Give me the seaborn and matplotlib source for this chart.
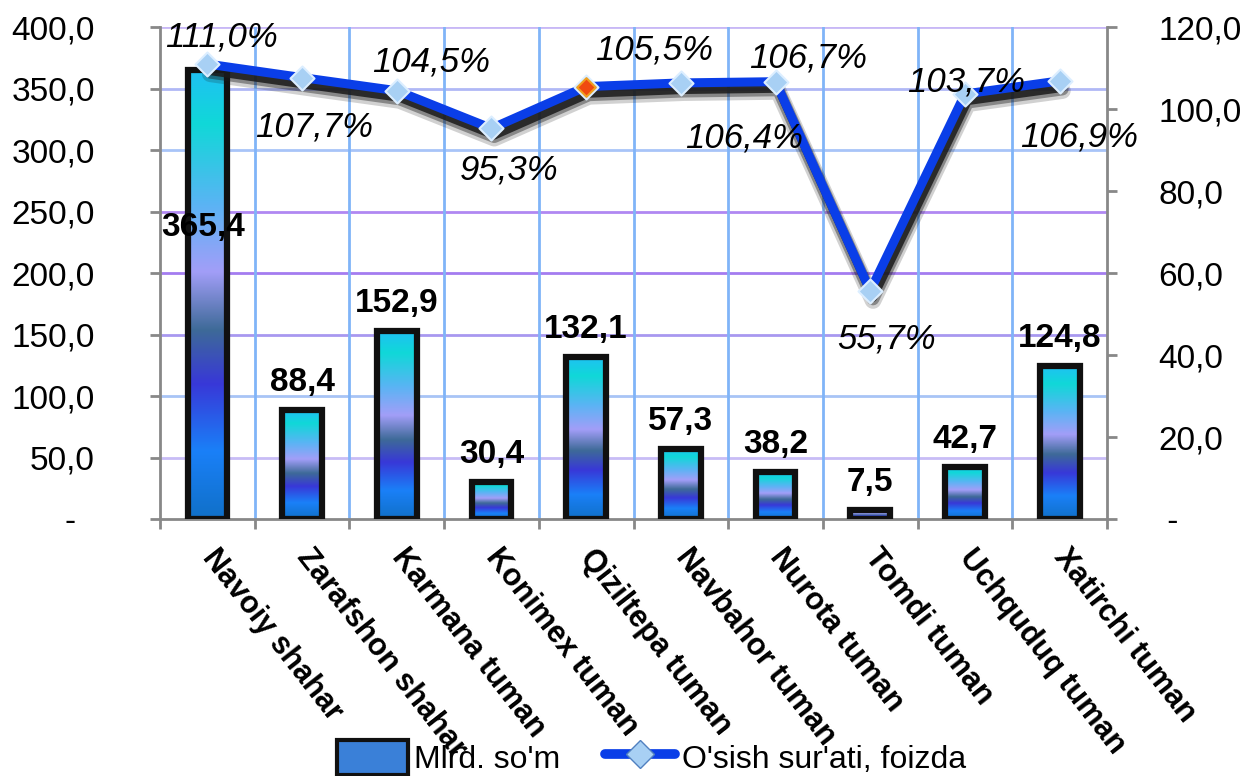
import matplotlib
matplotlib.use('Agg')
import matplotlib.pyplot as plt
import matplotlib.patheffects as pe
from matplotlib.colors import LinearSegmentedColormap
from matplotlib.lines import Line2D
from matplotlib.patches import Patch
from matplotlib.ticker import FuncFormatter, MultipleLocator
import seaborn as sns
import pandas as pd
import numpy as np

# data
regions = ['Navoiy shahar', 'Zarafshon shahar', 'Karmana tuman', 'Konimex tuman',
           'Qiziltepa tuman', 'Navbahor tuman', 'Nurota tuman', 'Tomdi tuman',
           'Uchquduq tuman', 'Xatirchi tuman']
volume = [365.4, 88.4, 152.9, 30.4, 132.1, 57.3, 38.2, 7.5, 42.7, 124.8]
growth = [111.0, 107.7, 104.5, 95.3, 105.5, 106.4, 106.7, 55.7, 103.7, 106.9]
bar_name = "Mlrd. so'm"
line_name = "O'sish sur'ati, foizda"

df = pd.DataFrame({'region': regions, 'volume': volume, 'growth': growth})

sns.set_theme(style='white')
plt.rcParams['font.family'] = ['Liberation Sans', 'DejaVu Sans']
plt.rcParams['text.color'] = 'black'

fig = plt.figure(figsize=(12.41, 7.76), dpi=100)
ax = fig.add_axes([0.129, 0.331, 0.763, 0.634])

# grid (horizontal lines alternate blue / purple like the original)
hgrid_cols = ['#ffffff', '#c8bcf6', '#a8c4f6', '#a898f0', '#a47cf0',
              '#b088f2', '#a8c4f8', '#b0b8f6', '#c8b8f6']
for k, c in enumerate(hgrid_cols):
    if k == 0:
        continue
    ax.axhline(k * 50, color=c, lw=2, zorder=0)
for k in range(1, len(regions)):
    ax.axvline(k - 0.5, color='#80b4f8', lw=2, zorder=0)

sns.barplot(data=df, x='region', y='volume', ax=ax, width=0.42, color='#1878f8',
            edgecolor='#101010', linewidth=4.5, zorder=3)

# gradient fill in every bar
cmap = LinearSegmentedColormap.from_list('bar', [
    (0.0, '#1070c8'), (0.15, '#1a80f8'), (0.30, '#3838d8'), (0.42, '#3e6a98'),
    (0.55, '#a29ef8'), (0.70, '#5ab4f4'), (0.88, '#10d8d8'), (1.0, '#20c0f4')])
grad = np.linspace(0, 1, 256).reshape(-1, 1)
for p in list(ax.patches):
    x0, y0 = p.get_x(), p.get_y()
    w, h = p.get_width(), p.get_height()
    im = ax.imshow(grad, cmap=cmap, origin='lower', extent=(x0, x0 + w, y0, y0 + h),
                   aspect='auto', zorder=3, interpolation='bilinear')
    im.set_clip_path(p)
    p.set_facecolor('none')
    p.set_zorder(4)

ax.set_xlim(-0.5, len(regions) - 0.5)
ax.set_ylim(0, 400)
ax.yaxis.set_major_locator(MultipleLocator(50))
ax.yaxis.set_major_formatter(FuncFormatter(
    lambda v, _: '-  ' if v == 0 else f'{v:.1f}'.replace('.', ',')))
ax.tick_params(axis='y', labelsize=24, length=7, width=2, color='#888888',
               labelcolor='black', direction='out', left=True, pad=40)
ax.set_xticks(np.arange(-0.5, len(regions)), minor=True)
ax.tick_params(axis='x', which='minor', length=7, width=2, color='#888888', bottom=True)
ax.tick_params(axis='x', which='major', length=0, pad=24, labelcolor='black')
ax.set_xticks(range(len(regions)))
ax.set_xticklabels(regions, rotation=-52, ha='left', va='center', rotation_mode='anchor',
                   fontsize=22, fontweight='bold')
ax.set_xlabel('')
ax.set_ylabel('')
for s in ['left', 'right', 'bottom']:
    ax.spines[s].set_color('#888888')
    ax.spines[s].set_linewidth(2)
ax.spines['top'].set_visible(False)

# bar value labels
bar_off = {0: (-4, -158)}
for i, v in enumerate(volume):
    off = bar_off.get(i, (0, 12))
    ax.annotate(f'{v:.1f}'.replace('.', ','), (i, v), xytext=off, textcoords='offset pixels',
                ha='center', va='bottom' if i not in bar_off else 'center',
                fontsize=24, fontweight='bold', color='black', zorder=6)

# growth line on the right axis, shadow only under the line
ax2 = ax.twinx()
shadow = [pe.SimpleLineShadow(offset=(2, -7), shadow_color='k', alpha=0.2, linewidth=12),
          pe.SimpleLineShadow(offset=(2, -6), shadow_color='k', alpha=0.4, linewidth=9),
          pe.SimpleLineShadow(offset=(2, -5), shadow_color='k', alpha=0.85, linewidth=6),
          pe.Normal()]
sns.lineplot(data=df, x='region', y='growth', ax=ax2, sort=False, color='#0a3ee8',
             linewidth=6.5, zorder=5, path_effects=shadow)
sns.scatterplot(data=df, x='region', y='growth', ax=ax2, marker='D', s=150,
                color='#a8d0f4', edgecolor='#dceeff', linewidth=1.5, zorder=6)
sns.scatterplot(data=df.iloc[[4]], x='region', y='growth', ax=ax2, marker='D', s=90,
                color='#f04a10', edgecolor='#f0a020', linewidth=1.5, zorder=7)
ax2.set_ylim(0, 120)
ax2.set_xlim(-0.5, len(regions) - 0.5)
ax2.yaxis.set_major_locator(MultipleLocator(20))
ax2.yaxis.set_major_formatter(FuncFormatter(
    lambda v, _: ' -' if v == 0 else f'{v:.1f}'.replace('.', ',')))
ax2.tick_params(axis='y', labelsize=24, length=7, width=2, color='#888888',
                labelcolor='black', direction='out', right=True, pad=30)
ax2.set_ylabel('')
ax2.set_xlabel('')
for s in ax2.spines.values():
    s.set_visible(False)

line_off = [(14, 27), (12, -49), (34, 29), (18, -42), (68, 37),
            (63, -55), (33, 24), (16, -48), (1, 12), (19, -56)]
for i, v in enumerate(growth):
    ax2.annotate(f'{v:.1f}%'.replace('.', ','), (i, v), xytext=line_off[i],
                 textcoords='offset pixels', ha='center', va='center',
                 fontsize=25, style='italic', color='black', zorder=8)

# legend
handles = [Patch(facecolor='#3a80d8', edgecolor='#111111', linewidth=3),
           Line2D([], [], color='#0a3ee8', linewidth=7, marker='D', markersize=14,
                  markerfacecolor='#a8d0f4', markeredgecolor='#5080c0')]
fig.legend(handles, [bar_name, line_name], loc='center', bbox_to_anchor=(0.525, 0.024),
           ncol=2, frameon=False, fontsize=23, handlelength=2.2, handleheight=1.3,
           columnspacing=1.4, handletextpad=0.2)

fig.savefig('out.png', dpi=100)
